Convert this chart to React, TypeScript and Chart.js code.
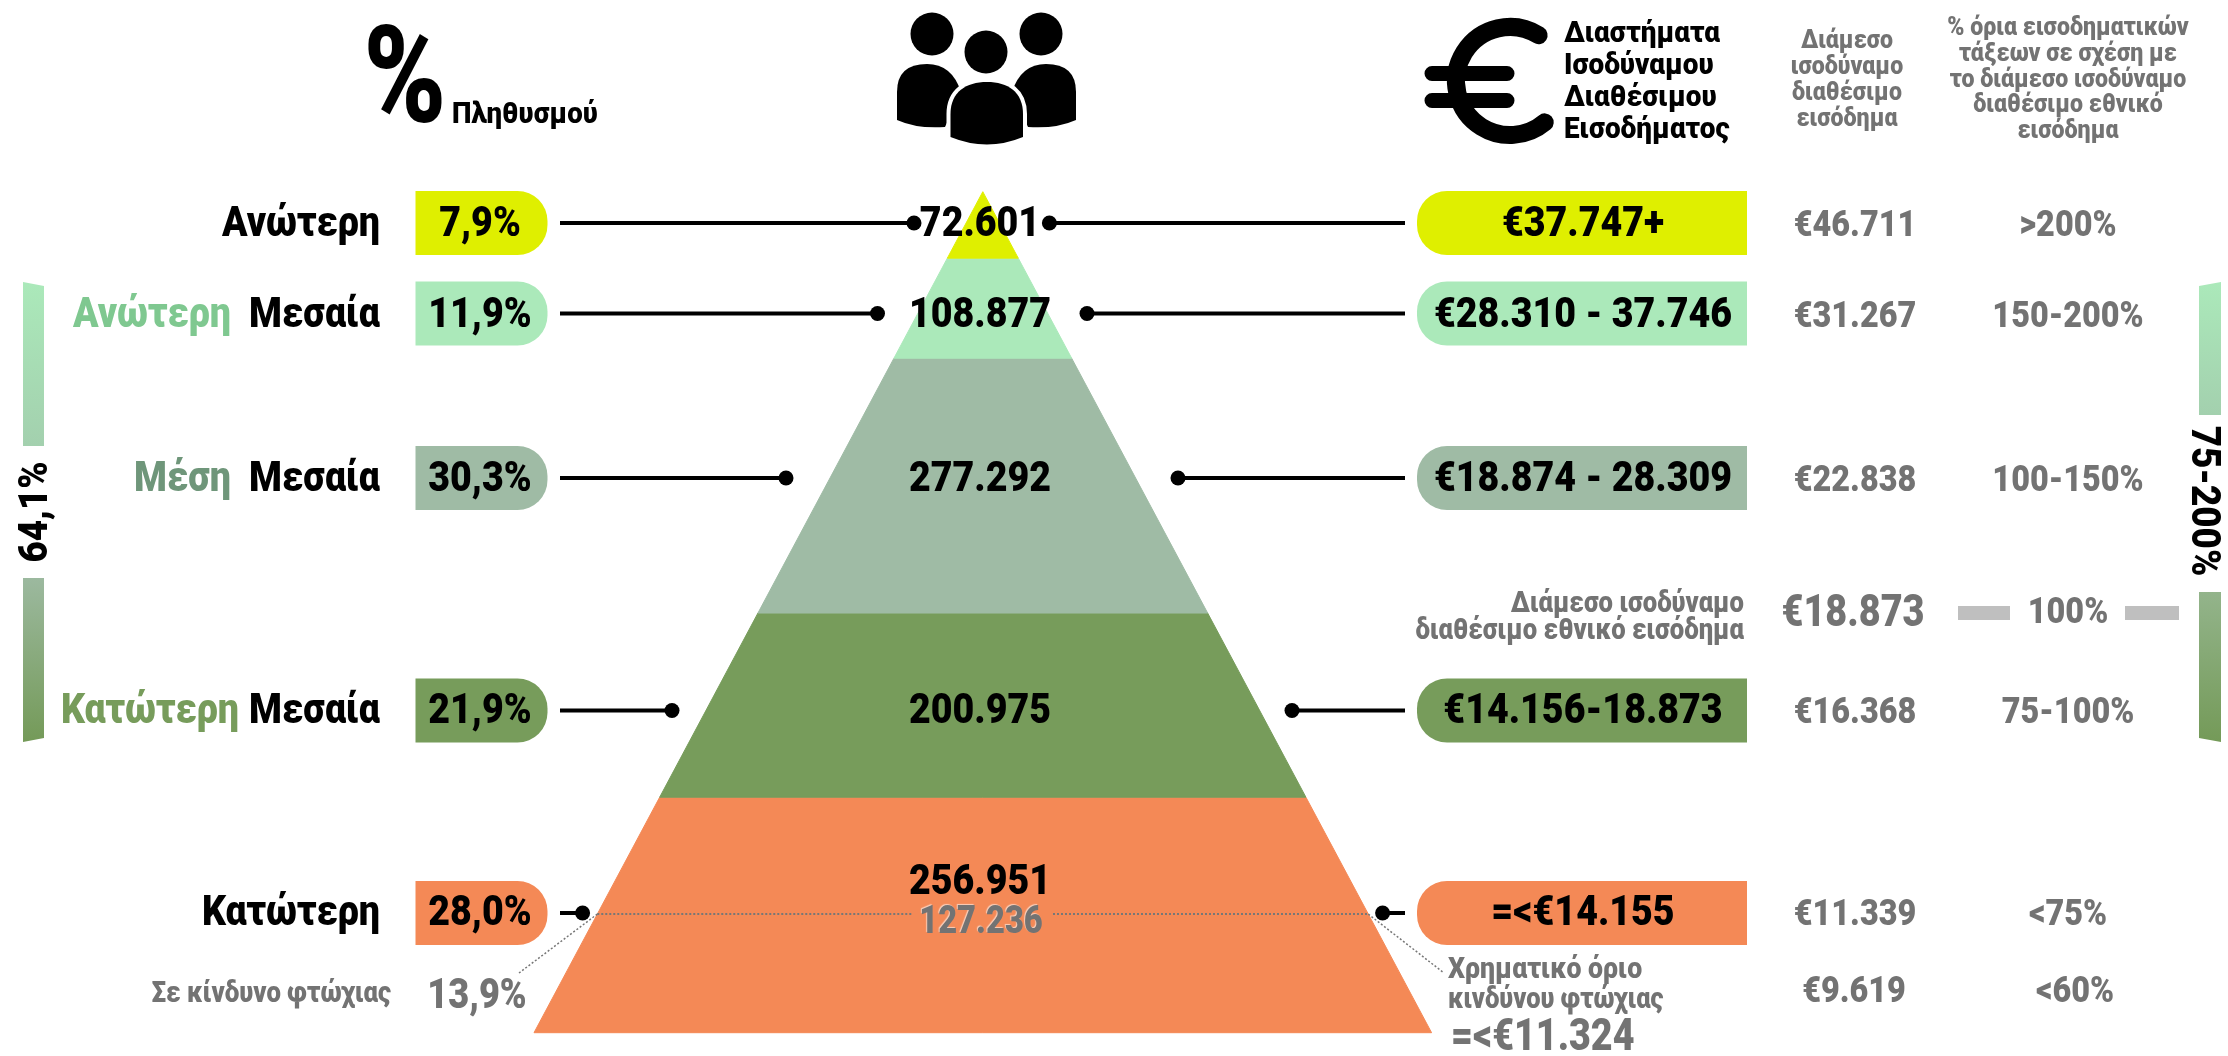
import React, { useEffect, useRef } from "react";
import { Chart, registerables } from "chart.js";

Chart.register(...registerables);

// ---- data ----
const classNames = ["Ανώτερη", "Ανώτερη", "Μέση", "Κατώτερη", "Κατώτερη"];
const classSuffix = ["", "Μεσαία", "Μεσαία", "Μεσαία", ""];
const populationShares = [7.9, 11.9, 30.3, 21.9, 28.0];
const shareLabels = ["7,9%", "11,9%", "30,3%", "21,9%", "28,0%"];
const householdCounts = ["72.601", "108.877", "277.292", "200.975", "256.951"];
const incomeRanges = ["€37.747+", "€28.310 - 37.746", "€18.874 - 28.309", "€14.156-18.873", "=<€14.155"];
const medianIncomes = ["€46.711", "€31.267", "€22.838", "€16.368", "€11.339"];
const percentBands = [">200%", "150-200%", "100-150%", "75-100%", "<75%"];
const povertyShare = 13.9;
const povertyCount = "127.236";

// ---- styling and layout ----
const W = 2228;
const H = 1056;
const CX = 982.8;
const TOP = 191.7;
const XK = 4.488;
const YK = 8.41;
const bandColors = ["#DFEF00", "#ABE9BA", "#9FBBA5", "#779C5B", "#F48956"];
const nameColors = ["#000000", "#7FC890", "#6F967A", "#779C5B", "#000000"];
const GREY = "#737373";
const rowY = [223, 313.5, 478, 710.5, 913];
const baseY = [236, 327, 491, 723, 925];
const dotLeft = [914, 877.5, 786, 672, 582.6];
const dotRight = [1049.4, 1087, 1178, 1292, 1382.6];
const xv = (px: number) => (px - CX) / XK;
const yv = (px: number) => (px - TOP) / YK;
const F = "Roboto, sans-serif";
const HS = 0.895;

function text(
  ctx: CanvasRenderingContext2D,
  s: string,
  x: number,
  y: number,
  size: number,
  color: string,
  align: CanvasTextAlign = "center",
  hs: number = HS,
  rot: number = 0
) {
  ctx.save();
  ctx.translate(x, y);
  if (rot) ctx.rotate(rot);
  ctx.scale(hs, 1);
  ctx.font = `900 ${size}px ${F}`;
  ctx.fillStyle = color;
  ctx.textAlign = align;
  ctx.textBaseline = "alphabetic";
  ctx.fillText(s, 0, 0);
  ctx.restore();
}

function pill(ctx: CanvasRenderingContext2D, x0: number, x1: number, y: number, color: string, left: boolean) {
  const h = 64;
  const top = y - h / 2;
  ctx.save();
  ctx.fillStyle = color;
  ctx.beginPath();
  const r = 30;
  if (left) ctx.roundRect(x0, top, x1 - x0, h, [r, 0, 0, r]);
  else ctx.roundRect(x0, top, x1 - x0, h, [0, r, r, 0]);
  ctx.fill();
  ctx.restore();
}

function sideBar(
  ctx: CanvasRenderingContext2D,
  x0: number,
  x1: number,
  y0L: number,
  y0R: number,
  y1L: number,
  y1R: number,
  c0: string,
  c1: string
) {
  const g = ctx.createLinearGradient(0, Math.min(y0L, y0R), 0, Math.max(y1L, y1R));
  g.addColorStop(0, c0);
  g.addColorStop(1, c1);
  ctx.save();
  ctx.fillStyle = g;
  ctx.beginPath();
  ctx.moveTo(x0, y0L);
  ctx.lineTo(x1, y0R);
  ctx.lineTo(x1, y1R);
  ctx.lineTo(x0, y1L);
  ctx.closePath();
  ctx.fill();
  ctx.restore();
}

function people(ctx: CanvasRenderingContext2D) {
  ctx.save();
  ctx.fillStyle = "#000";
  const head = (x: number, y: number) => {
    ctx.beginPath();
    ctx.ellipse(x, y, 21.5, 21.5, 0, 0, Math.PI * 2);
    ctx.fill();
  };
  head(932, 34);
  head(1041, 34);
  head(986, 52);
  const side = (x0: number, dir: number) => {
    ctx.beginPath();
    ctx.moveTo(x0, 120);
    ctx.lineTo(x0, 92);
    ctx.quadraticCurveTo(x0, 64, x0 + dir * 30, 64);
    ctx.quadraticCurveTo(x0 + dir * 55, 64, x0 + dir * 64, 92);
    ctx.lineTo(x0 + dir * 48, 127);
    ctx.quadraticCurveTo(x0 + dir * 20, 129, x0, 120);
    ctx.closePath();
    ctx.fill();
  };
  side(897, 1);
  side(1076, -1);
  ctx.beginPath();
  ctx.moveTo(950.5, 137);
  ctx.lineTo(950.5, 114);
  ctx.bezierCurveTo(950.5, 92, 966, 82, 987, 82);
  ctx.bezierCurveTo(1008, 82, 1023, 92, 1023, 114);
  ctx.lineTo(1023, 137);
  ctx.quadraticCurveTo(987, 152, 950.5, 137);
  ctx.closePath();
  ctx.strokeStyle = "#fff";
  ctx.lineWidth = 8;
  ctx.stroke();
  ctx.fill();
  ctx.restore();
}

function euro(ctx: CanvasRenderingContext2D) {
  ctx.save();
  ctx.strokeStyle = "#000";
  ctx.lineCap = "round";
  ctx.lineWidth = 18;
  ctx.beginPath();
  ctx.ellipse(1510, 81, 54, 54, 0, (-58 * Math.PI) / 180, (50 * Math.PI) / 180, true);
  ctx.stroke();
  ctx.lineWidth = 15;
  ctx.beginPath();
  ctx.moveTo(1432, 73.5);
  ctx.lineTo(1507, 73.5);
  ctx.moveTo(1432, 100.5);
  ctx.lineTo(1507, 100.5);
  ctx.stroke();
  ctx.restore();
}

const annotationPlugin = {
  id: "annotations",
  afterDatasetsDraw(chart: any) {
    const ctx: CanvasRenderingContext2D = chart.ctx;

    // header
    text(ctx, "%", 405, 122, 136, "#000", "center", 0.82);
    text(ctx, "Πληθυσμού", 452, 123, 30, "#000", "left", 0.92);
    people(ctx);
    euro(ctx);
    ["Διαστήματα", "Ισοδύναμου", "Διαθέσιμου", "Εισοδήματος"].forEach((s, i) =>
      text(ctx, s, 1564, 41.5 + i * 32, 30, "#000", "left", 0.93)
    );
    ["Διάμεσο", "ισοδύναμο", "διαθέσιμο", "εισόδημα"].forEach((s, i) =>
      text(ctx, s, 1847, 48 + i * 26, 26, GREY, "center", 0.89)
    );
    ["% όρια εισοδηματικών", "τάξεων σε σχέση με", "το διάμεσο ισοδύναμο", "διαθέσιμο εθνικό", "εισόδημα"].forEach((s, i) =>
      text(ctx, s, 2068, 35 + i * 25.8, 26, GREY, "center", 0.89)
    );

    // side bars
    sideBar(ctx, 23, 44, 282, 286, 446, 446, "#ABE9BA", "#A3D0AE");
    sideBar(ctx, 23, 44, 578, 578, 742, 738, "#9CB99F", "#749A58");
    sideBar(ctx, 2199, 2221, 286, 282, 415, 415, "#ABE9BA", "#A3D0AE");
    sideBar(ctx, 2199, 2221, 592, 592, 738, 742, "#93B48B", "#749A58");
    text(ctx, "64,1%", 47, 512, 40, "#000", "center", 0.92, -Math.PI / 2);
    text(ctx, "75-200%", 2192, 501, 40, "#000", "center", 0.92, Math.PI / 2);

    // rows
    rowY.forEach((y, i) => {
      const by = baseY[i];
      if (classSuffix[i]) {
        text(ctx, classSuffix[i], 380, by, 42, "#000", "right");
        text(ctx, classNames[i], i === 3 ? 239 : 231, by, 42, nameColors[i], "right");
      } else {
        text(ctx, classNames[i], 380, by, 42, "#000", "right");
      }
      pill(ctx, 415.5, 547.5, y, bandColors[i], false);
      pill(ctx, 1417, 1747, y, bandColors[i], true);
      text(ctx, shareLabels[i], 480, by, 42, "#000");
      text(ctx, incomeRanges[i], 1583, by, 42, "#000");
      text(ctx, householdCounts[i], 980, i === 4 ? 894 : by, 42, "#000");
      text(ctx, medianIncomes[i], 1855, by, 36, GREY, "center", 0.9);
      text(ctx, percentBands[i], 2068, by, 36, GREY, "center", 0.9);
    });

    // poverty block
    ctx.save();
    ctx.shadowColor = "rgba(255,255,255,0.6)";
    ctx.shadowOffsetX = -1;
    ctx.shadowOffsetY = -1;
    ctx.shadowBlur = 1;
    text(ctx, povertyCount, 981, 933, 38, GREY, "center", 0.86);
    ctx.restore();
    text(ctx, "Σε κίνδυνο φτώχιας", 391, 1002, 29, GREY, "right", 0.888);
    text(ctx, "13,9%", 477, 1008, 42, GREY, "center", 0.86);
    text(ctx, "Χρηματικό όριο", 1448, 978, 30, GREY, "left", 0.89);
    text(ctx, "κινδύνου φτώχιας", 1448, 1008, 30, GREY, "left", 0.85);
    text(ctx, "=<€11.324", 1451, 1050, 44, GREY, "left", 0.855);
    text(ctx, "€9.619", 1854, 1002, 36, GREY, "center", 0.9);
    text(ctx, "<60%", 2075, 1002, 36, GREY, "center", 0.9);

    // national median
    text(ctx, "Διάμεσο ισοδύναμο", 1744, 612, 29, GREY, "right", 0.885);
    text(ctx, "διαθέσιμο εθνικό εισόδημα", 1744, 639, 29, GREY, "right", 0.885);
    text(ctx, "€18.873", 1853, 626, 44, GREY, "center", 0.86);
    text(ctx, "100%", 2068, 623, 36, GREY, "center", 0.9);
    ctx.fillStyle = "#BFBFBF";
    ctx.fillRect(1958, 606, 52, 14);
    ctx.fillRect(2125, 606, 54, 14);
  },
};

function buildDatasets() {
  const datasets: any[] = [];
  // connectors first (drawn on top of the bands)
  rowY.forEach((y, i) => {
    const base = {
      type: "scatter",
      showLine: true,
      borderColor: "#000",
      backgroundColor: "#000",
      borderWidth: 4,
      pointBorderWidth: 0,
      fill: false,
    };
    datasets.push({
      ...base,
      label: `left ${i}`,
      data: [{ x: xv(560), y: yv(y) }, { x: xv(dotLeft[i]), y: yv(y) }],
      pointRadius: [0, 7.5],
    });
    datasets.push({
      ...base,
      label: `right ${i}`,
      data: [{ x: xv(1405), y: yv(y) }, { x: xv(dotRight[i]), y: yv(y) }],
      pointRadius: [0, 7.5],
    });
  });

  // poverty threshold, placed from the shares
  const cumPoverty = populationShares.slice(0, 4).reduce((a, b) => a + b, 0) + povertyShare;
  const dotted = {
    type: "scatter",
    showLine: true,
    borderColor: "#777777",
    borderDash: [2, 2],
    pointRadius: 0,
    fill: false,
  };
  datasets.push({ ...dotted, label: "threshold l", borderWidth: 2, data: [{ x: -cumPoverty, y: cumPoverty }, { x: xv(912), y: cumPoverty }] });
  datasets.push({ ...dotted, label: "threshold r", borderWidth: 2, data: [{ x: xv(1053), y: cumPoverty }, { x: cumPoverty, y: cumPoverty }] });
  datasets.push({ ...dotted, label: "lead l", borderWidth: 1.5, data: [{ x: -cumPoverty, y: cumPoverty }, { x: xv(519), y: yv(973) }] });
  datasets.push({ ...dotted, label: "lead r", borderWidth: 1.5, data: [{ x: cumPoverty, y: cumPoverty }, { x: xv(1444), y: yv(973) }] });

  // pyramid bands: height and width both follow the cumulative population share
  let c0 = 0;
  populationShares.forEach((share, i) => {
    const c1 = c0 + share;
    datasets.push({
      type: "scatter",
      label: classNames[i] + " " + classSuffix[i],
      showLine: true,
      fill: "shape",
      tension: 0,
      backgroundColor: bandColors[i],
      borderColor: bandColors[i],
      borderWidth: 1,
      pointRadius: 0,
      data: [
        { x: -c0, y: c0 },
        { x: c0, y: c0 },
        { x: c1, y: c1 },
        { x: -c1, y: c1 },
        { x: -c0, y: c0 },
      ],
    });
    c0 = c1;
  });
  return datasets;
}

export default function App() {
  const ref = useRef<HTMLCanvasElement>(null);
  useEffect(() => {
    const chart = new Chart(ref.current as HTMLCanvasElement, {
      type: "scatter",
      data: { datasets: buildDatasets() } as any,
      plugins: [annotationPlugin],
      options: {
        animation: false,
        responsive: false,
        maintainAspectRatio: false,
        devicePixelRatio: 1,
        layout: { padding: 0, autoPadding: false },
        events: [],
        plugins: { legend: { display: false }, tooltip: { enabled: false } },
        scales: {
          x: { type: "linear", display: false, min: xv(0), max: xv(W) },
          y: { type: "linear", display: false, reverse: true, min: yv(0), max: yv(H) },
        },
      },
    } as any);
    return () => chart.destroy();
  }, []);
  return (
    <div style={{ position: "absolute", left: 0, top: 0, width: W, height: H, background: "#fff", overflow: "hidden" }}>
      <canvas ref={ref} width={W} height={H} style={{ display: "block" }} />
    </div>
  );
}
